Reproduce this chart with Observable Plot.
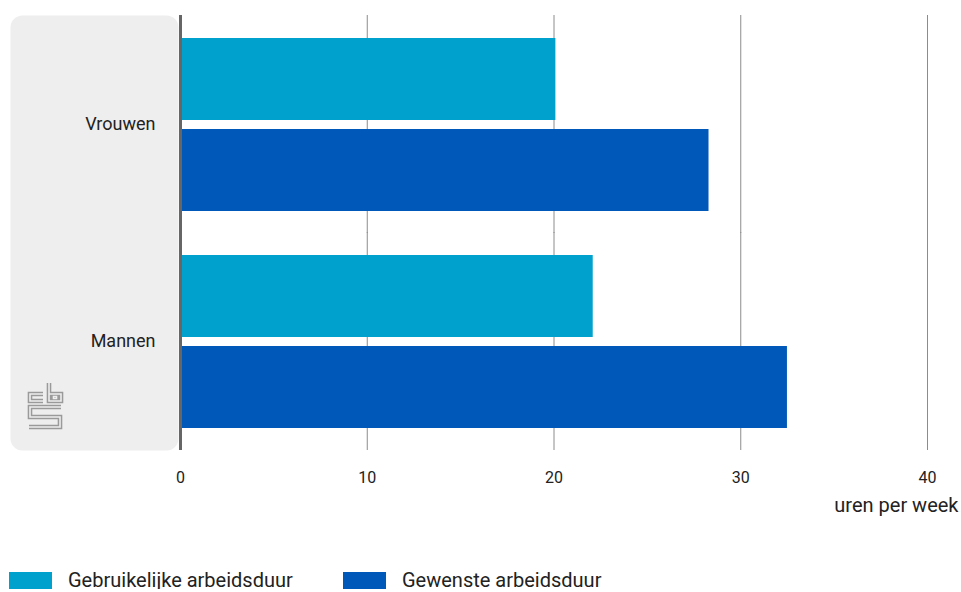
<!DOCTYPE html>
<html><head><meta charset="utf-8">
<script src="https://cdn.jsdelivr.net/npm/d3@7"></script>
<script src="https://cdn.jsdelivr.net/npm/@observablehq/plot@0.6"></script>
<style>
body{margin:0;background:#fff;font-family:Roboto, sans-serif;color:#222;}
#chart{position:relative;width:961px;}
#legend{display:flex;align-items:center;padding-top:41px;padding-left:9px;font-size:20px;line-height:18px;color:#222;}
.item{display:flex;align-items:center;width:334px;}
.sw{width:43px;height:17px;margin-right:16px;flex:none;}
</style></head><body><div id="chart"></div><div id="legend"></div>
<script>
const groups = ["Vrouwen", "Mannen"];
const series = ["Gebruikelijke arbeidsduur", "Gewenste arbeidsduur"];
const gebruikelijk = [20.1, 22.1];
const gewenst = [28.3, 32.5];
const xTicks = [0, 10, 20, 30, 40];
const colors = ["#00a1cd", "#0058b8"];
const axisLabel = "uren per week";

const data = groups.flatMap((g, i) => [
  {groep: g, reeks: series[0], uren: gebruikelijk[i]},
  {groep: g, reeks: series[1], uren: gewenst[i]}
]);

const chart = Plot.plot({
  width: 961, height: 530,
  marginLeft: 180, marginRight: 34, marginTop: 15, marginBottom: 80,
  style: {fontFamily: "Roboto, sans-serif", fontSize: "16px", color: "#222", background: "white"},
  x: {domain: [0, 40], ticks: xTicks, label: null, tickSize: 0, tickPadding: 43},
  y: {domain: series, axis: null, paddingInner: 0.1, paddingOuter: 0},
  fy: {domain: groups, paddingInner: 0.2, paddingOuter: 0.1, axis: null},
  color: {domain: series, range: colors},
  marks: [
    Plot.frame({facet: "super", fill: "#eeeeee", stroke: null, rx: 12, insetLeft: -170, insetRight: 749, insetTop: -22, insetBottom: -22}),
    Plot.axisFy({anchor: "left", tickSize: 0, tickPadding: 25, label: null, fontSize: 18, fill: "#222"}),
    Plot.ruleX(xTicks.slice(1), {stroke: "#8c8c8c", strokeWidth: 1, insetTop: -22, insetBottom: -22}),
    Plot.barX(data, {fy: "groep", y: "reeks", x: "uren", fill: "reeks"}),
    Plot.ruleX([0], {stroke: "#666666", strokeWidth: 3, insetTop: -22, insetBottom: -22}),
    Plot.text([axisLabel], {facet: "super", text: d => d, frameAnchor: "bottom-right", textAnchor: "end", dx: 31, dy: 83, fontSize: 20, fill: "#222"})
  ]
});
document.getElementById("chart").append(chart);

// CBS logo (decoration)
const ns = "http://www.w3.org/2000/svg";
const logo = document.createElementNS(ns, "g");
logo.setAttribute("fill", "none");
const paths = `M43 394 H30 V401 H43
M49 383 V401 H61 V394 H49
M53.5 396.5 H56.5 V398.5 H53.5 Z
M61 407 H30 V417 H60 V427 H29`;
logo.innerHTML = `<path d="${paths}" stroke="#9a9a9a" stroke-width="4.6" stroke-linejoin="miter"/>
<path d="${paths}" stroke="#eeeeee" stroke-width="1.6" stroke-linejoin="miter"/>`;
chart.append(logo);

const legend = document.getElementById("legend");
series.forEach((s, i) => {
  const it = document.createElement("div"); it.className = "item";
  const sw = document.createElement("div"); sw.className = "sw"; sw.style.background = colors[i];
  const t = document.createElement("span"); t.textContent = s;
  it.append(sw, t); legend.append(it);
});
</script></body></html>
